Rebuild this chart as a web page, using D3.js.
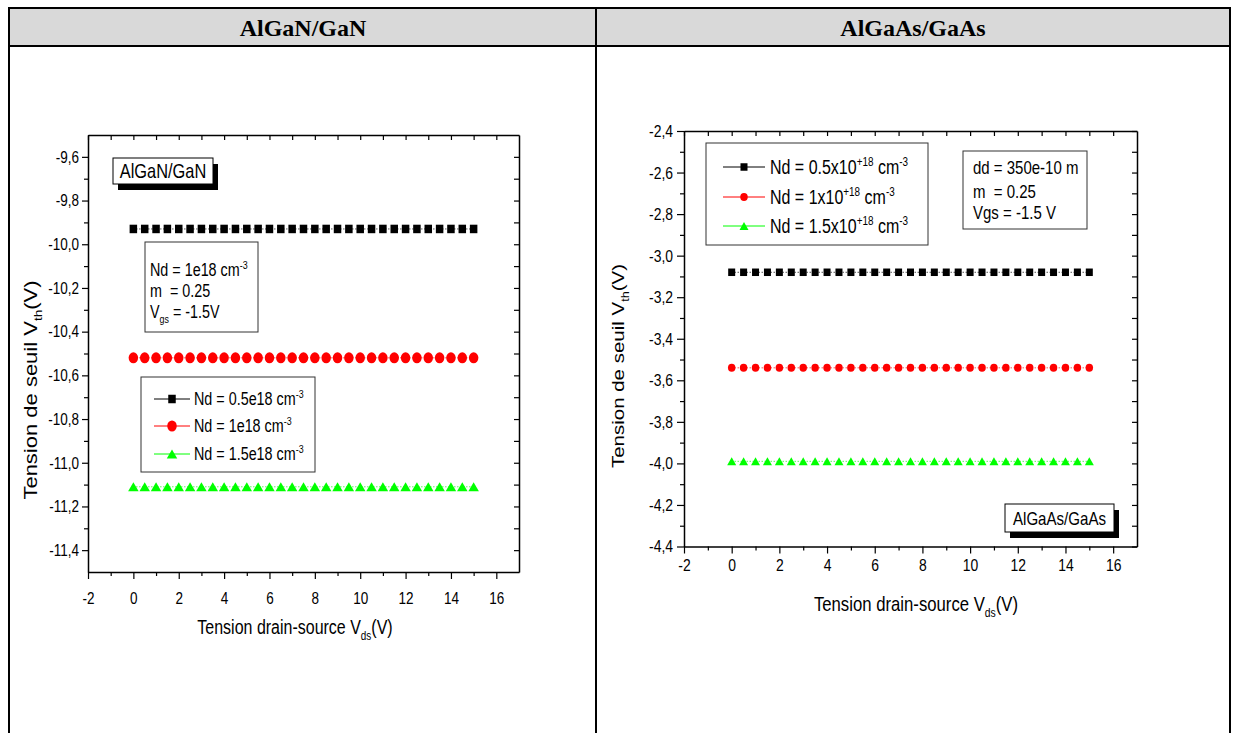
<!DOCTYPE html>
<html>
<head>
<meta charset="utf-8">
<script src="https://cdn.jsdelivr.net/npm/d3@7"></script>
<style>
  body { margin: 0; background: #fff; }
  svg { display: block; }
</style>
</head>
<body>
<svg id="chart" width="1235" height="733"></svg>
<script>
// data
const headers = ['AlGaN/GaN', 'AlGaAs/GaAs'];

const vds = [0, 0.5, 1, 1.5, 2, 2.5, 3, 3.5, 4, 4.5, 5, 5.5, 6, 6.5, 7, 7.5,
  8, 8.5, 9, 9.5, 10, 10.5, 11, 11.5, 12, 12.5, 13, 13.5, 14, 14.5, 15];

const alganNd05 = [-9.93, -9.93, -9.93, -9.93, -9.93, -9.93, -9.93, -9.93, -9.93, -9.93, -9.93,
  -9.93, -9.93, -9.93, -9.93, -9.93, -9.93, -9.93, -9.93, -9.93, -9.93, -9.93, -9.93, -9.93,
  -9.93, -9.93, -9.93, -9.93, -9.93, -9.93, -9.93];
const alganNd10 = [-10.52, -10.52, -10.52, -10.52, -10.52, -10.52, -10.52, -10.52, -10.52, -10.52,
  -10.52, -10.52, -10.52, -10.52, -10.52, -10.52, -10.52, -10.52, -10.52, -10.52, -10.52, -10.52,
  -10.52, -10.52, -10.52, -10.52, -10.52, -10.52, -10.52, -10.52, -10.52];
const alganNd15 = [-11.11, -11.11, -11.11, -11.11, -11.11, -11.11, -11.11, -11.11, -11.11, -11.11,
  -11.11, -11.11, -11.11, -11.11, -11.11, -11.11, -11.11, -11.11, -11.11, -11.11, -11.11, -11.11,
  -11.11, -11.11, -11.11, -11.11, -11.11, -11.11, -11.11, -11.11, -11.11];

const algaasNd05 = [-3.08, -3.08, -3.08, -3.08, -3.08, -3.08, -3.08, -3.08, -3.08, -3.08, -3.08,
  -3.08, -3.08, -3.08, -3.08, -3.08, -3.08, -3.08, -3.08, -3.08, -3.08, -3.08, -3.08, -3.08,
  -3.08, -3.08, -3.08, -3.08, -3.08, -3.08, -3.08];
const algaasNd10 = [-3.54, -3.54, -3.54, -3.54, -3.54, -3.54, -3.54, -3.54, -3.54, -3.54, -3.54,
  -3.54, -3.54, -3.54, -3.54, -3.54, -3.54, -3.54, -3.54, -3.54, -3.54, -3.54, -3.54, -3.54,
  -3.54, -3.54, -3.54, -3.54, -3.54, -3.54, -3.54];
const algaasNd15 = [-3.99, -3.99, -3.99, -3.99, -3.99, -3.99, -3.99, -3.99, -3.99, -3.99, -3.99,
  -3.99, -3.99, -3.99, -3.99, -3.99, -3.99, -3.99, -3.99, -3.99, -3.99, -3.99, -3.99, -3.99,
  -3.99, -3.99, -3.99, -3.99, -3.99, -3.99, -3.99];

const xTicksMajor = [-2, 0, 2, 4, 6, 8, 10, 12, 14, 16];
const xTicksMinor = [-1, 1, 3, 5, 7, 9, 11, 13, 15];
const alganYMajor = [-11.4, -11.2, -11.0, -10.8, -10.6, -10.4, -10.2, -10.0, -9.8, -9.6];
const alganYMinor = [-11.3, -11.1, -10.9, -10.7, -10.5, -10.3, -10.1, -9.9, -9.7];
const algaasYMajor = [-4.4, -4.2, -4.0, -3.8, -3.6, -3.4, -3.2, -3.0, -2.8, -2.6, -2.4];
const algaasYMinor = [-4.3, -4.1, -3.9, -3.7, -3.5, -3.3, -3.1, -2.9, -2.7, -2.5];

const seriesColors = ['#000000', '#ff0000', '#00ff00'];
const seriesShapes = ['square', 'circle', 'triangle'];

const FONT = "'Liberation Sans', Arial, sans-serif";
const SQ = 0.82; // the plots in the picture are squeezed sideways

const svg = d3.select('#chart');

// ---- table frame ----
svg.append('rect').attr('x', 9).attr('y', 8).attr('width', 1221).attr('height', 38).attr('fill', '#d9d9d9');
const frame = [
  [8, 8, 1231, 8], [8, 46, 1231, 46],
  [9, 8, 9, 733], [596, 8, 596, 733], [1230, 8, 1230, 733]
];
svg.selectAll('.frame').data(frame).enter().append('line')
  .attr('x1', (d) => d[0]).attr('y1', (d) => d[1])
  .attr('x2', (d) => d[2]).attr('y2', (d) => d[3])
  .attr('stroke', '#000').attr('stroke-width', 2);

svg.selectAll('.hdr').data(headers).enter().append('text')
  .attr('x', (d, i) => (i === 0 ? 303 : 913))
  .attr('y', 36)
  .attr('text-anchor', 'middle')
  .attr('font-family', "'Liberation Serif', 'Times New Roman', serif")
  .attr('font-weight', 'bold')
  .attr('font-size', 24)
  .text((d) => d);

// squeeze a text sideways around its own anchor
function squeeze(sel) {
  sel.each(function () {
    const t = d3.select(this);
    const x = +t.attr('x') || 0;
    const y = +t.attr('y') || 0;
    t.attr('transform', `translate(${x},${y}) scale(${SQ},1) translate(${-x},${-y})`);
  });
}

// text with sub / superscript parts
function rich(sel, parts, size) {
  let shift = 0;
  parts.forEach((p) => {
    const target = p.sub ? size * 0.3 : p.sup ? -size * 0.42 : 0;
    const ts = sel.append('tspan').attr('dy', target - shift).text(p.t);
    if (p.sub || p.sup) ts.attr('font-size', size * 0.62);
    shift = target;
  });
}

function marker(g, shape, color, cx, cy, s) {
  if (shape === 'square') {
    g.append('rect').attr('x', cx - s.sq[0] / 2).attr('y', cy - s.sq[1] / 2)
      .attr('width', s.sq[0]).attr('height', s.sq[1]).attr('fill', color);
  } else if (shape === 'circle') {
    g.append('ellipse').attr('cx', cx).attr('cy', cy)
      .attr('rx', s.ci[0] / 2).attr('ry', s.ci[1] / 2).attr('fill', color);
  } else {
    const w = s.tr[0], h = s.tr[1];
    g.append('path')
      .attr('d', `M${cx},${cy - h / 2}L${cx + w / 2},${cy + h / 2}L${cx - w / 2},${cy + h / 2}Z`)
      .attr('fill', color);
  }
}

function drawPanel(p) {
  const x = d3.scaleLinear().domain([-2, 17]).range(p.xRange);
  const y = d3.scaleLinear().domain(p.yDomain).range(p.yRange);
  const g = svg.append('g');
  const fmtY = (d) => d.toFixed(1).replace('.', ',');

  const styleAxis = (a) => {
    a.attr('font-family', FONT).attr('font-size', p.tickFont);
    a.select('.domain').attr('stroke-width', 1.5);
    a.selectAll('.tick line').attr('stroke-width', 1.2);
  };

  // bottom
  const bx = g.append('g').attr('transform', `translate(0,${p.yRange[0]})`)
    .call(d3.axisBottom(x).tickValues(xTicksMajor).tickSize(7).tickSizeOuter(0)
      .tickPadding(p.xPad).tickFormat((d) => String(d)));
  styleAxis(bx);
  squeeze(bx.selectAll('text'));
  g.append('g').attr('transform', `translate(0,${p.yRange[0]})`)
    .call(d3.axisBottom(x).tickValues(xTicksMinor).tickSize(4).tickFormat(''))
    .call(styleAxis).select('.domain').remove();

  // left
  const ly = g.append('g').attr('transform', `translate(${p.xRange[0]},0)`)
    .call(d3.axisLeft(y).tickValues(p.yMajor).tickSize(p.yTick).tickSizeOuter(0)
      .tickPadding(p.yPad).tickFormat(fmtY));
  styleAxis(ly);
  squeeze(ly.selectAll('text'));
  g.append('g').attr('transform', `translate(${p.xRange[0]},0)`)
    .call(d3.axisLeft(y).tickValues(p.yMinor).tickSize(4).tickFormat(''))
    .call(styleAxis).select('.domain').remove();

  // top and right mirror axes, ticks inward
  g.append('g').attr('transform', `translate(0,${p.yRange[1]})`)
    .call(d3.axisTop(x).tickValues(xTicksMajor.concat(xTicksMinor)).tickSize(-5).tickSizeOuter(0).tickFormat(''))
    .call(styleAxis);
  g.append('g').attr('transform', `translate(${p.xRange[1]},0)`)
    .call(d3.axisRight(y).tickValues(p.yMajor.concat(p.yMinor)).tickSize(-5).tickSizeOuter(0).tickFormat(''))
    .call(styleAxis);

  // series
  p.series.forEach((vals, i) => {
    const pts = vds.map((v, k) => [v, vals[k]]);
    g.append('path').datum(pts)
      .attr('d', d3.line().x((d) => x(d[0])).y((d) => y(d[1])))
      .attr('fill', 'none').attr('stroke', seriesColors[i])
      .attr('stroke-width', 1).attr('stroke-dasharray', '1,2');
    const mg = g.append('g');
    pts.forEach((d) => marker(mg, seriesShapes[i], seriesColors[i], x(d[0]), y(d[1]), p.mk));
  });

  // axis titles
  const xt = g.append('text').attr('x', p.xTitle[0]).attr('y', p.xTitle[1])
    .attr('text-anchor', 'middle').attr('font-family', FONT).attr('font-size', p.xTitleFont);
  rich(xt, [{ t: 'Tension drain-source V' }, { t: 'ds', sub: true }, { t: '(V)' }], p.xTitleFont);
  squeeze(xt);

  const yt = g.append('text')
    .attr('transform', `translate(${p.yTitle[0]},${p.yTitle[1]}) rotate(-90) scale(1,${SQ})`)
    .attr('text-anchor', 'middle').attr('font-family', FONT).attr('font-size', p.yTitleFont);
  rich(yt, [{ t: 'Tension de seuil V' }, { t: 'th', sub: true }, { t: '(V)' }], p.yTitleFont);

  // legend
  const L = p.legend;
  g.append('rect').attr('x', L.box[0]).attr('y', L.box[1])
    .attr('width', L.box[2] - L.box[0]).attr('height', L.box[3] - L.box[1])
    .attr('fill', '#fff').attr('stroke', '#333').attr('stroke-width', 1);
  L.labels.forEach((parts, i) => {
    const cy = L.rows[i];
    g.append('line').attr('x1', L.line[0]).attr('x2', L.line[1]).attr('y1', cy).attr('y2', cy)
      .attr('stroke', seriesColors[i]).attr('stroke-width', 1);
    marker(g, seriesShapes[i], seriesColors[i], (L.line[0] + L.line[1]) / 2, cy, p.mk);
    const t = g.append('text').attr('x', L.textX).attr('y', cy + L.font * 0.36)
      .attr('font-family', FONT).attr('font-size', L.font);
    rich(t, parts, L.font);
    squeeze(t);
  });

  // info box
  const I = p.info;
  g.append('rect').attr('x', I.box[0]).attr('y', I.box[1])
    .attr('width', I.box[2] - I.box[0]).attr('height', I.box[3] - I.box[1])
    .attr('fill', '#fff').attr('stroke', '#333').attr('stroke-width', 1);
  I.lines.forEach((parts, i) => {
    const t = g.append('text').attr('x', I.textX).attr('y', I.base[i])
      .attr('font-family', FONT).attr('font-size', I.font);
    rich(t, parts, I.font);
    squeeze(t);
  });

  // name box with drop shadow
  const N = p.name;
  g.append('rect').attr('x', N.box[0] + 5).attr('y', N.box[1] + 6)
    .attr('width', N.box[2] - N.box[0]).attr('height', N.box[3] - N.box[1]).attr('fill', '#000');
  g.append('rect').attr('x', N.box[0]).attr('y', N.box[1])
    .attr('width', N.box[2] - N.box[0]).attr('height', N.box[3] - N.box[1])
    .attr('fill', '#fff').attr('stroke', '#000').attr('stroke-width', 1);
  const nt = g.append('text').attr('x', (N.box[0] + N.box[2]) / 2)
    .attr('y', (N.box[1] + N.box[3]) / 2 + N.font * 0.36)
    .attr('text-anchor', 'middle').attr('font-family', FONT).attr('font-size', N.font)
    .text(N.text);
  squeeze(nt);
}

drawPanel({
  xRange: [88, 519], yDomain: [-11.5, -9.5], yRange: [572, 135],
  yMajor: alganYMajor, yMinor: alganYMinor,
  tickFont: 16.5, xPad: 13, yTick: 6, yPad: 3,
  series: [alganNd05, alganNd10, alganNd15],
  mk: { sq: [7.5, 8.5], ci: [9.5, 11], tr: [10.5, 9] },
  xTitle: [295, 634], xTitleFont: 19.5,
  yTitle: [37, 390], yTitleFont: 22,
  legend: {
    box: [141, 377, 315, 472], rows: [399, 426, 454], line: [154, 190], textX: 194, font: 17.5,
    labels: [
      [{ t: 'Nd = 0.5e18 cm' }, { t: '-3', sup: true }],
      [{ t: 'Nd = 1e18 cm' }, { t: '-3', sup: true }],
      [{ t: 'Nd = 1.5e18 cm' }, { t: '-3', sup: true }]
    ]
  },
  info: {
    box: [145, 242, 258, 332], textX: 150, base: [276, 297, 318], font: 17.5,
    lines: [
      [{ t: 'Nd = 1e18 cm' }, { t: '-3', sup: true }],
      [{ t: 'm \u00a0= 0.25' }],
      [{ t: 'V' }, { t: 'gs', sub: true }, { t: ' = -1.5V' }]
    ]
  },
  name: { box: [113, 158, 213, 184], font: 20, text: 'AlGaN/GaN' }
});

drawPanel({
  xRange: [684, 1137], yDomain: [-4.4, -2.4], yRange: [546.5, 131],
  yMajor: algaasYMajor, yMinor: algaasYMinor,
  tickFont: 17, xPad: 5, yTick: 7, yPad: 4,
  series: [algaasNd05, algaasNd10, algaasNd15],
  mk: { sq: [7, 7.5], ci: [7.5, 8], tr: [9, 8] },
  xTitle: [916, 611], xTitleFont: 20.4,
  yTitle: [624, 366], yTitleFont: 20.5,
  legend: {
    box: [706, 143, 928, 245], rows: [167, 197, 226], line: [723, 765], textX: 770, font: 19.5,
    labels: [
      [{ t: 'Nd = 0.5x10' }, { t: '+18', sup: true }, { t: ' cm' }, { t: '-3', sup: true }],
      [{ t: 'Nd = 1x10' }, { t: '+18', sup: true }, { t: ' cm' }, { t: '-3', sup: true }],
      [{ t: 'Nd = 1.5x10' }, { t: '+18', sup: true }, { t: ' cm' }, { t: '-3', sup: true }]
    ]
  },
  info: {
    box: [963, 151, 1087, 229], textX: 973, base: [174, 198, 219], font: 18.3,
    lines: [
      [{ t: 'dd = 350e-10 m' }],
      [{ t: 'm \u00a0= 0.25' }],
      [{ t: 'Vgs = -1.5 V' }]
    ]
  },
  name: { box: [1005, 504, 1114, 532], font: 18.4, text: 'AlGaAs/GaAs' }
});
</script>
</body>
</html>
